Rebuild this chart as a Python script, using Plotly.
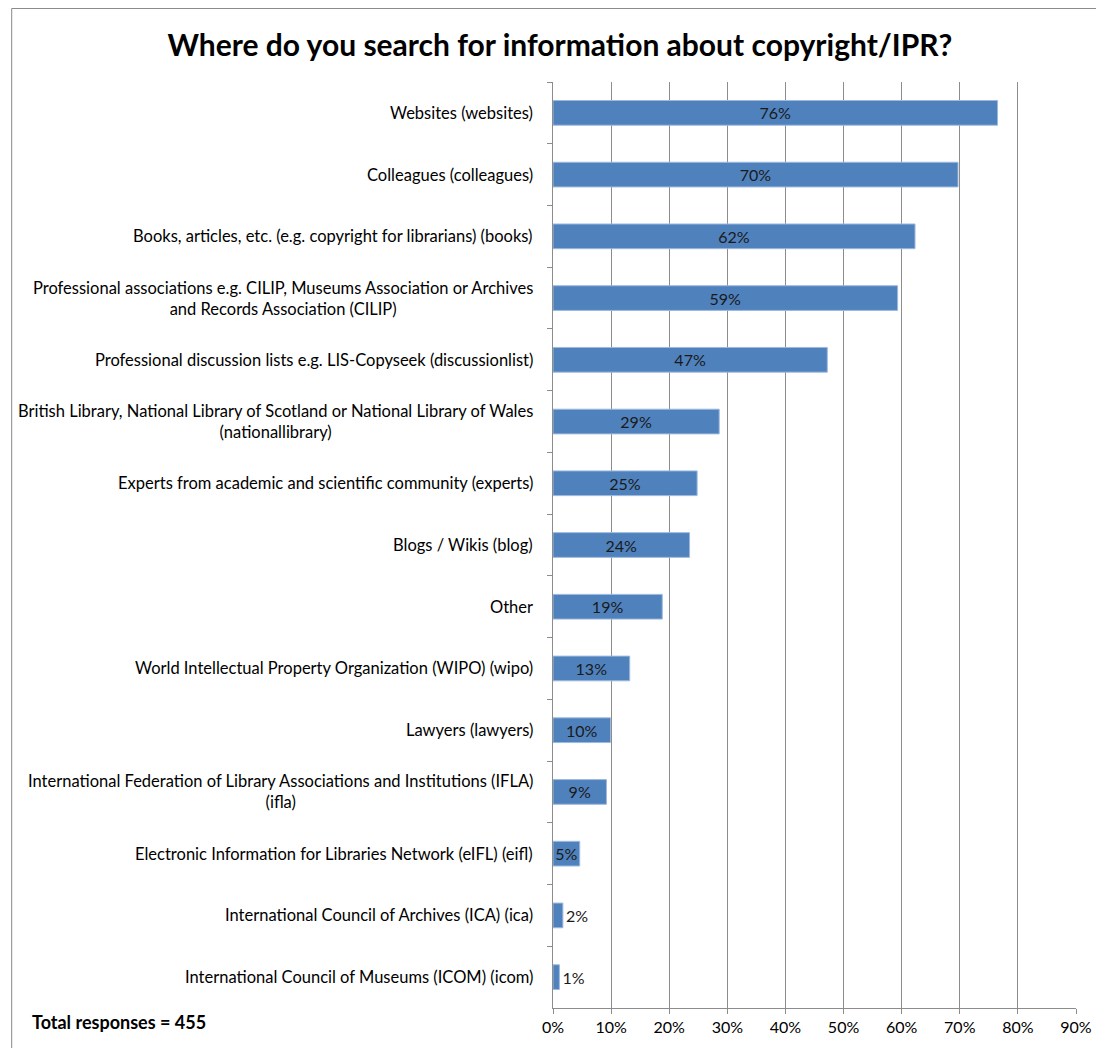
import plotly.graph_objects as go

categories = [
    "Websites (websites)",
    "Colleagues (colleagues)",
    "Books, articles, etc. (e.g. copyright for librarians) (books)",
    "Professional associations e.g. CILIP, Museums Association or Archives<br>and Records Association (CILIP)",
    "Professional discussion lists e.g. LIS-Copyseek (discussionlist)",
    "British Library, National Library of Scotland or National Library of Wales<br>(nationallibrary)",
    "Experts from academic and scientific community (experts)",
    "Blogs / Wikis (blog)",
    "Other",
    "World Intellectual Property Organization (WIPO) (wipo)",
    "Lawyers (lawyers)",
    "International Federation of Library Associations and Institutions (IFLA)<br>(ifla)",
    "Electronic Information for Libraries Network (eIFL) (eifl)",
    "International Council of Archives (ICA) (ica)",
    "International Council of Museums (ICOM) (icom)",
]
values = [0.765, 0.697, 0.623, 0.593, 0.472, 0.286, 0.248, 0.235, 0.188,
          0.132, 0.099, 0.092, 0.046, 0.017, 0.011]
x_ticks = [0, 0.1, 0.2, 0.3, 0.4, 0.5, 0.6, 0.7, 0.8, 0.9]
x_ticktext = ["0%", "10%", "20%", "30%", "40%", "50%", "60%", "70%", "80%", "90%"]
title = "Where do you search for information about copyright/IPR?"
note = "Total responses = 455"

FONT = "Lato"
GRID = "#8c8c8c"

labels = [f"{round(v*100):.0f}%" for v in values]
positions = ["outside" if v < 0.03 else "inside" for v in values]

fig = go.Figure(go.Bar(
    y=categories, x=values, orientation="h",
    marker=dict(color="#4F81BD", line=dict(color="#9DB9DD", width=1)),
    width=0.4,
    text=labels, textposition=positions, insidetextanchor="middle",
    constraintext="none", cliponaxis=False,
    textfont=dict(family=FONT, size=16, color="#1a1a1a"),
))

fig.update_layout(
    width=1096, height=1040,
    margin=dict(l=545, r=25, t=74, b=40),
    paper_bgcolor="white", plot_bgcolor="white",
    showlegend=False,
    title=dict(text=f"<b>{title}</b>", x=0.5036, xanchor="center", y=0.9644, yanchor="middle",
               font=dict(family=FONT, size=30, color="black")),
    xaxis=dict(range=[0, 0.9], tickvals=x_ticks, ticktext=x_ticktext,
               showgrid=True, gridcolor=GRID, gridwidth=1,
               showline=True, linecolor=GRID, linewidth=1,
               ticks="outside", ticklen=5, tickcolor=GRID,
               tickfont=dict(family=FONT, size=16, color="black"),
               zeroline=False, fixedrange=True),
    yaxis=dict(autorange="reversed", type="category",
               showticklabels=False, tickson="boundaries",
               ticks="outside", ticklen=5, tickcolor=GRID,
               showline=True, linecolor=GRID, linewidth=1,
               showgrid=False, zeroline=False),
)

for c in categories:
    fig.add_annotation(x=0, y=c, xref="paper", yref="y", text=c,
                       xanchor="right", yanchor="middle", align="center",
                       xshift=-18, showarrow=False,
                       font=dict(family=FONT, size=16.5, color="black"))

fig.add_annotation(x=0, y=0, xref="paper", yref="paper", text=f"<b>{note}</b>",
                   xanchor="left", yanchor="middle", xshift=-523, yshift=-14,
                   showarrow=False, font=dict(family=FONT, size=18, color="black"))

# outer chart border (left and top edges visible)
fig.add_shape(type="line", xref="paper", yref="paper", x0=-1.035, x1=-1.035, y0=1.0794, y1=-0.05,
              line=dict(color="#888888", width=1))
fig.add_shape(type="line", xref="paper", yref="paper", x0=-1.035, x1=1.05, y0=1.0794, y1=1.0794,
              line=dict(color="#888888", width=1))

fig.write_html("out.html")
